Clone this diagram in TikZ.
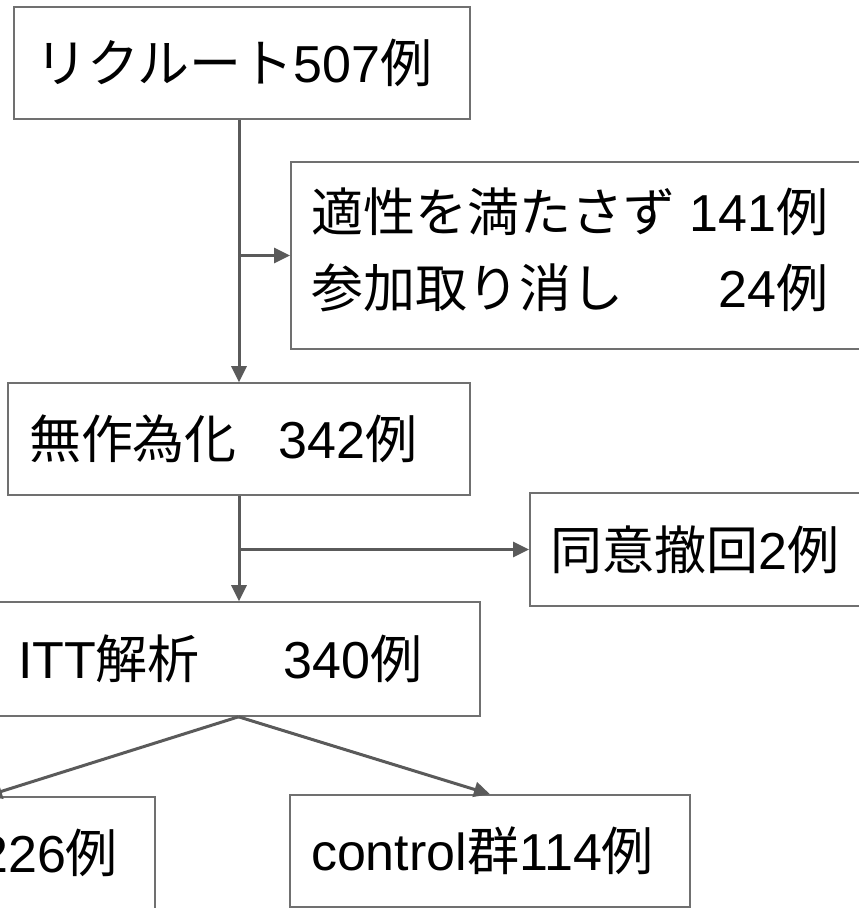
\documentclass[tikz,border=0pt]{standalone}
\usepackage{fontspec}
\setmainfont{Liberation Sans}
\newfontfamily\jp{Noto Sans CJK JP}
\usetikzlibrary{arrows.meta}
\definecolor{boxgray}{HTML}{707070}
\definecolor{linegray}{HTML}{5A5A5A}
\begin{document}
\begin{tikzpicture}[x=1pt,y=-1pt,
  box/.style={draw=boxgray, line width=1.6pt, rectangle, inner xsep=21pt, inner ysep=0pt,
    align=left, font=\fontsize{52}{72}\selectfont},
  connline/.style={draw=linegray, line width=3pt},
  conn/.style={connline, -{Triangle[length=16pt,width=15pt]}}]
\useasboundingbox (0,0) rectangle (859,908);
\fill[white] (0,0) rectangle (859,908);

\node[box, text width=414pt, minimum height=112pt] (b1) at (242,63) {{\jp リクルート}507{\jp 例}};
\node[box, text width=560pt, minimum height=187pt, anchor=west] (b2) at (290,255.5)
  {\begin{tabular}{@{}l@{\hspace{14pt}}r@{}}{\jp 適性を満たさず} & 141{\jp 例}\\[4pt]{\jp 参加取り消し} & 24{\jp 例}\end{tabular}};
\node[box, text width=420pt, minimum height=112pt] (b3) at (239,439) {{\jp 無作為化}\hspace{42pt}342{\jp 例}};
\node[box, text width=300pt, minimum height=113pt, anchor=west] (b5) at (529,549.5) {{\jp 同意撤回}2{\jp 例}};
\node[box, text width=441pt, minimum height=114pt] (b4) at (238.5,659) {ITT{\jp 解析}\hspace{84pt}340{\jp 例}};
\node[box, text width=264pt, minimum width=338pt, minimum height=112pt, align=right] (b6) at (-14,853) {226{\jp 例}};
\node[box, text width=358pt, minimum height=112pt] (b7) at (490,851) {control{\jp 群}114{\jp 例}};

\coordinate (j1) at (b3.north |- b2.west);
\coordinate (j2) at (b3.south |- b5.west);
\draw[conn] (b1.south -| b3.north) -- (b3.north);
\draw[conn] (j1) -- (b2.west);
\draw[conn] (b3.south) -- (b4.north -| b3.south);
\draw[conn] (j2) -- (b5.west);
\draw[conn] (b4.south) -- (b6.north);
\draw[conn] (b4.south) -- (b7.north);
\end{tikzpicture}
\end{document}
